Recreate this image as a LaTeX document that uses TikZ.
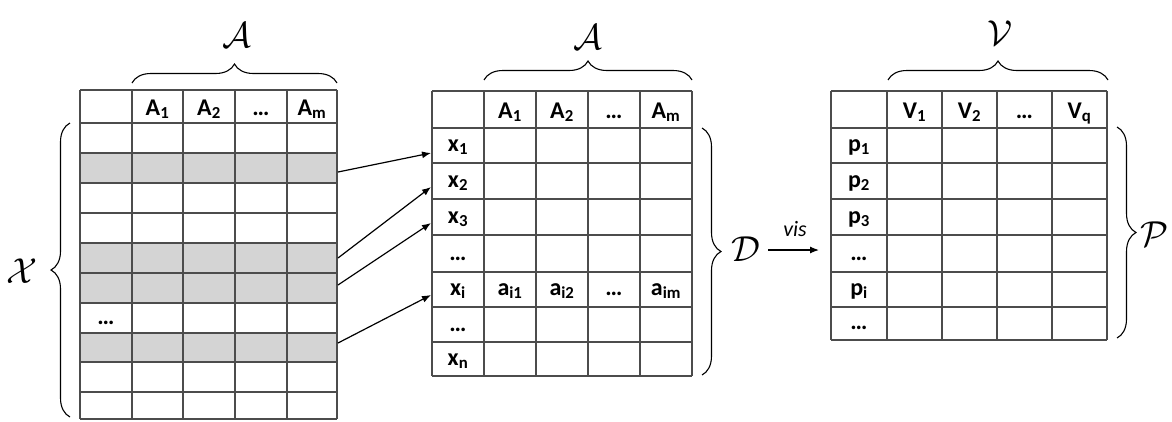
\documentclass[tikz,border=0pt]{standalone}
\usepackage{fontspec}
\setmainfont{Carlito}
\usetikzlibrary{decorations.pathreplacing,arrows.meta}
\begin{document}
\begin{tikzpicture}[x=1pt,y=-1pt,
  gridline/.style={draw=black!70, line width=1.1pt},
  grayrow/.style={fill=black!17, draw=none},
  cell/.style={font=\fontsize{24}{24}\selectfont\bfseries, inner sep=0pt, anchor=base},
  cal/.style={font=\Huge, scale=1.45, inner sep=0pt},
  br/.style={decorate, decoration={brace, amplitude=19pt}, line width=1.1pt},
  conn/.style={-{Latex[length=9pt,width=7pt]}, line width=1.2pt}]
\useasboundingbox (0,0) rectangle (1172,421);

% ---------- left table ----------
\fill[grayrow] (80,153) rectangle (337,183);
\fill[grayrow] (80,243) rectangle (337,303);
\fill[grayrow] (80,333) rectangle (337,362);
\foreach \x in {80,132,183,235,287,337} \draw[gridline] (\x,90) -- (\x,419);
\foreach \y in {90,123,153,183,213,243,273,303,333,362,392,419} \draw[gridline] (80,\y) -- (337,\y);
\node[cell] (LA1) at (157.5,115) {A\textsubscript{1}};
\node[cell] (LA2) at (209,115) {A\textsubscript{2}};
\node[cell] (LAd) at (261,115) {\char"2026};
\node[cell] (LAm) at (312,115) {A\textsubscript{m}};
\node[cell] (Ldots) at (106,324) {\char"2026};

\draw[br] (132,83) -- (337,83);
\node[cal] (calA1) at (237,35) {$\mathcal{A}$};
\draw[br] (70,417) -- (70,123);
\node[cal] (calX) at (22,271) {$\mathcal{X}$};

% ---------- middle table ----------
\foreach \x in {432,484,536,588,640,692} \draw[gridline] (\x,91) -- (\x,376);
\foreach \y in {91,128,163,199,235,272,307,342,376} \draw[gridline] (432,\y) -- (692,\y);
\node[cell] (MA1) at (510,118) {A\textsubscript{1}};
\node[cell] (MA2) at (562,118) {A\textsubscript{2}};
\node[cell] (MAd) at (614,118) {\char"2026};
\node[cell] (MAm) at (666,118) {A\textsubscript{m}};
\node[cell] (x1) at (458,151) {x\textsubscript{1}};
\node[cell] (x2) at (458,187) {x\textsubscript{2}};
\node[cell] (x3) at (458,223) {x\textsubscript{3}};
\node[cell] (xd1) at (458,260) {\char"2026};
\node[cell] (xi) at (458,295) {x\textsubscript{i}};
\node[cell] (ai1) at (510,295) {a\textsubscript{i1}};
\node[cell] (ai2) at (562,295) {a\textsubscript{i2}};
\node[cell] (aid) at (614,295) {\char"2026};
\node[cell] (aim) at (666,295) {a\textsubscript{im}};
\node[cell] (xd2) at (458,331) {\char"2026};
\node[cell] (xn) at (458,365) {x\textsubscript{n}};

\draw[br] (484,80) -- (692,80);
\node[cal] (calA2) at (588,37) {$\mathcal{A}$};
\draw[br] (702,128) -- (702,375);
\node[cal] (calD) at (746,249) {$\mathcal{D}$};

% ---------- arrows ----------
\coordinate (s1) at (338,172);
\coordinate (s2) at (338,258);
\coordinate (s3) at (338,285);
\coordinate (s4) at (338,343);
\coordinate (e1) at (431,153);
\coordinate (e2) at (431,187);
\coordinate (e3) at (431,223);
\coordinate (e4) at (431,295);
\draw[conn] (s1) -- (e1);
\draw[conn] (s2) -- (e2);
\draw[conn] (s3) -- (e3);
\draw[conn] (s4) -- (e4);

% ---------- vis arrow ----------
\coordinate (v0) at (768,250);
\coordinate (v1) at (819,250);
\draw[conn] (v0) -- (v1);
\node[font=\fontsize{22}{22}\selectfont\itshape, inner sep=0pt] (vis) at (795,229) {vis};

% ---------- right table ----------
\foreach \x in {831,887,942,997,1052,1107} \draw[gridline] (\x,91) -- (\x,340);
\foreach \y in {91,128,163,199,235,272,307,340} \draw[gridline] (831,\y) -- (1107,\y);
\node[cell] (V1) at (914.5,118) {V\textsubscript{1}};
\node[cell] (V2) at (969.5,118) {V\textsubscript{2}};
\node[cell] (Vd) at (1024.5,118) {\char"2026};
\node[cell] (Vq) at (1079.5,118) {V\textsubscript{q}};
\node[cell] (p1) at (859,151) {p\textsubscript{1}};
\node[cell] (p2) at (859,187) {p\textsubscript{2}};
\node[cell] (p3) at (859,223) {p\textsubscript{3}};
\node[cell] (pd1) at (859,260) {\char"2026};
\node[cell] (pi) at (859,295) {p\textsubscript{i}};
\node[cell] (pd2) at (859,329) {\char"2026};

\draw[br] (888,80) -- (1108,80);
\node[cal] (calV) at (1000,33) {$\mathcal{V}$};
\draw[br] (1117,127) -- (1117,338);
\node[cal] (calP) at (1155,234) {$\mathcal{P}$};
\end{tikzpicture}
\end{document}
